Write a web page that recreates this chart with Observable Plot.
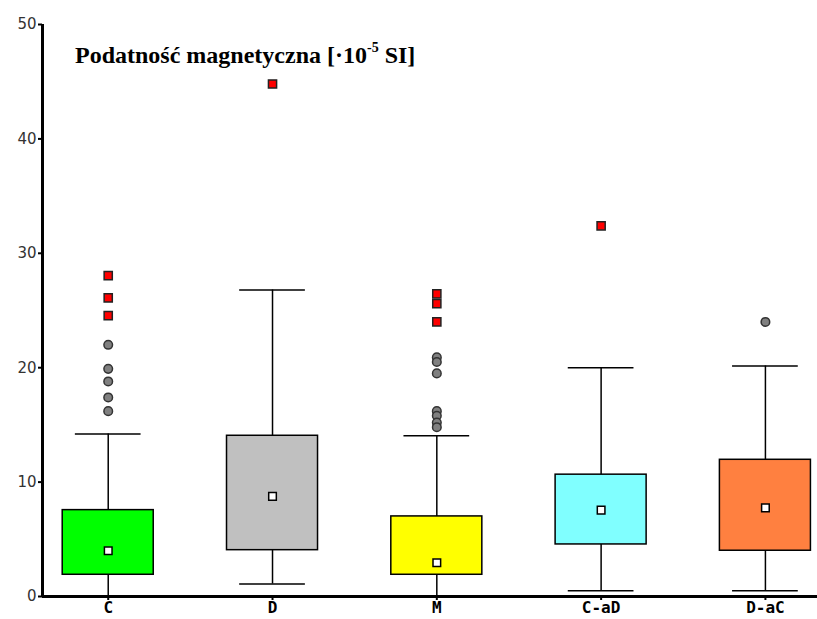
<!DOCTYPE html>
<html>
<head>
<meta charset="utf-8">
<script src="https://cdn.jsdelivr.net/npm/d3@7"></script>
<script src="https://cdn.jsdelivr.net/npm/@observablehq/plot@0.6"></script>
<style>
  html, body { margin: 0; padding: 0; background: #fff; }
  #wrap { position: relative; width: 817px; height: 619px; overflow: hidden; }
  #title { position: absolute; left: 75px; top: 42px; font-family: "Liberation Serif", "Times New Roman", serif; font-weight: bold; font-size: 24px; line-height: 1.15; color: #000; white-space: nowrap; }
  #title sup { font-size: 14px; position: relative; top: -2px; }
</style>
</head>
<body>
<div id="wrap">
  <div id="chart"></div>
  <div id="title">Podatność magnetyczna [·10<sup>-5</sup> SI]</div>
</div>
<script>
// Categories and box statistics
const categories = ["C", "D", "M", "C-aD", "D-aC"];
const boxColors = ["#00ff00", "#c0c0c0", "#ffff00", "#80ffff", "#ff8040"];
const q1 = [1.9, 4.05, 1.9, 4.55, 4.0];
const q3 = [7.55, 14.05, 7.0, 10.65, 11.95];
const centerMarker = [4.0, 8.75, 2.95, 7.55, 7.75];
const whiskerLow = [0, 1.1, 0, 0.5, 0.5];
const whiskerHigh = [14.2, 26.8, 14.05, 20.0, 20.15];
// Extremes (red squares) and outliers (grey circles)
const extremeCategory = ["C", "C", "C", "D", "M", "M", "M", "C-aD"];
const extremeValue = [28.05, 26.1, 24.55, 44.8, 26.45, 25.6, 24.0, 32.4];
const outlierCategory = ["C", "C", "C", "C", "C", "M", "M", "M", "M", "M", "M", "M", "D-aC"];
const outlierValue = [22.0, 19.9, 18.8, 17.4, 16.2, 20.9, 20.5, 19.5, 16.2, 15.8, 15.2, 14.8, 24.0];
const yTicks = [0, 10, 20, 30, 40, 50];
const xDomain = [-0.4, 4.317];

const boxes = categories.map((c, i) => ({
  cat: c, i, q1: q1[i], q3: q3[i], mid: centerMarker[i],
  lo: whiskerLow[i], hi: whiskerHigh[i], color: boxColors[i]
}));
const idx = c => categories.indexOf(c);
const extremes = extremeValue.map((v, k) => ({i: idx(extremeCategory[k]), v}));
const outliers = outlierValue.map((v, k) => ({i: idx(outlierCategory[k]), v}));

const boxHalf = 0.277;
const capHalf = 0.2;

const chart = Plot.plot({
  width: 817,
  height: 619,
  marginLeft: 42,
  marginRight: 0,
  marginTop: 24,
  marginBottom: 23,
  style: {background: "#fff", overflow: "visible"},
  x: {domain: xDomain, axis: null, label: null},
  y: {domain: [0, 50], axis: null, label: null},
  marks: [
    // whiskers
    Plot.ruleX(boxes, {x: "i", y1: "lo", y2: "hi", stroke: "#000", strokeWidth: 1.5}),
    Plot.ruleY(boxes, {y: "hi", x1: d => d.i - capHalf, x2: d => d.i + capHalf, stroke: "#000", strokeWidth: 1.5}),
    Plot.ruleY(boxes, {y: "lo", x1: d => d.i - capHalf, x2: d => d.i + capHalf, stroke: "#000", strokeWidth: 1.5}),
    // boxes
    Plot.rect(boxes, {x1: d => d.i - boxHalf, x2: d => d.i + boxHalf, y1: "q1", y2: "q3", fill: "color", stroke: "#000", strokeWidth: 1.5}),
    // center marker
    Plot.dot(boxes, {x: "i", y: "mid", symbol: "square", r: 4.3, fill: "#fff", stroke: "#000", strokeWidth: 1.5}),
    // outliers
    Plot.dot(outliers, {x: "i", y: "v", r: 4.3, fill: "#808080", stroke: "#333", strokeWidth: 1.5}),
    Plot.dot(extremes, {x: "i", y: "v", symbol: "square", r: 4.6, fill: "#ff0000", stroke: "#222", strokeWidth: 1.5}),
    // axes
    Plot.axisY(yTicks, {x: xDomain[0], anchor: "left", label: null, tickSize: 4, tickPadding: 2, strokeWidth: 2, stroke: "#000", fill: "#333", fontSize: 15, fontFamily: "DejaVu Sans", tickFormat: d => String(d)}),
    Plot.ruleX([xDomain[0]], {y1: 0, y2: 50, stroke: "#000", strokeWidth: 3}),
    Plot.ruleY([0], {stroke: "#000", strokeWidth: 3}),
    Plot.axisX(d3.range(categories.length), {y: 0, anchor: "bottom", label: null, tickSize: 4, tickPadding: 1, strokeWidth: 2, stroke: "#000", fill: "#000", fontSize: 16, fontWeight: "bold", fontFamily: "DejaVu Sans Mono", tickFormat: i => categories[i]})
  ]
});
document.getElementById("chart").appendChild(chart);
</script>
</body>
</html>
